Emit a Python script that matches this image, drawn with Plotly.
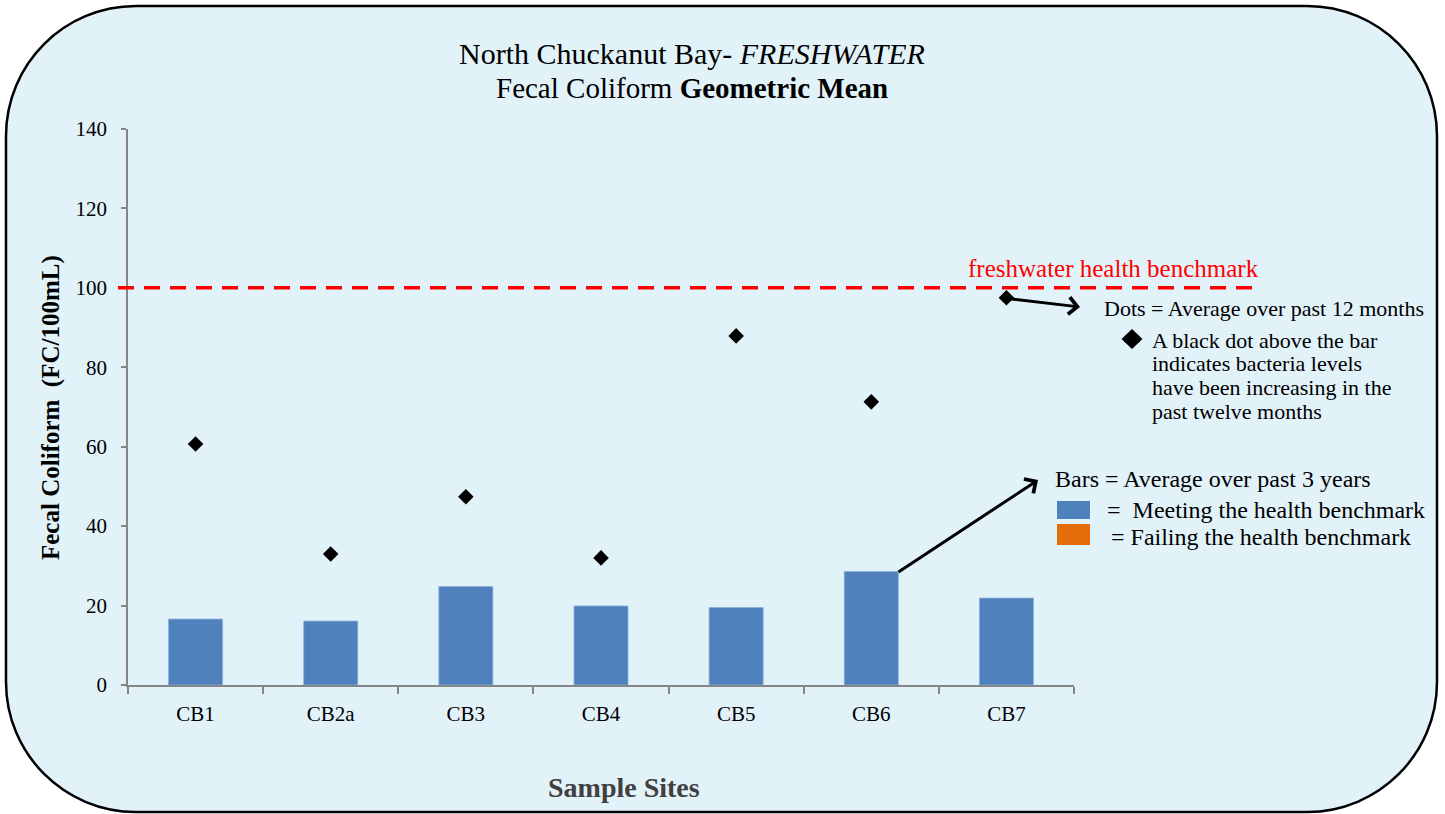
import plotly.graph_objects as go

# ---------------- data ----------------
sites = ["CB1", "CB2a", "CB3", "CB4", "CB5", "CB6", "CB7"]
avg_3yr = [16.6, 16.1, 24.8, 19.9, 19.5, 28.6, 21.9]        # bars
avg_12mo = [60.7, 33.0, 47.4, 32.0, 87.9, 71.3, 97.5]       # diamonds
y_ticks = [0, 20, 40, 60, 80, 100, 120, 140]
benchmark = 100

# ---------------- geometry helpers ----------------
W, H = 1445, 814
L, R, T, B = 128, 1074, 129, 685


def px(x):
    return (x - L) / (R - L)


def py(y):
    return (B - y) / (B - T)


FONT = "Liberation Serif"
BG = "#E2F2F9"
BLUE = "#4F81BD"
ORANGE = "#E46C0A"
AXIS = "#868686"

fig = go.Figure()

fig.add_trace(go.Bar(
    x=sites, y=avg_3yr, width=0.4,
    marker=dict(color=BLUE, line=dict(color="#8DB0DA", width=0.8)),
    showlegend=False, hoverinfo="x+y",
))
fig.add_trace(go.Scatter(
    x=sites, y=avg_12mo, mode="markers",
    marker=dict(symbol="diamond", size=12, color="black"),
    showlegend=False,
))

# ---------------- rounded background panel ----------------
x0, y0, x1, y1, r = 6, 6, 1437, 812, 130
k = 0.5523 * r


def P(X, Y):
    return f"{px(X):.5f},{py(Y):.5f}"


path = (
    f"M{P(x0 + r, y0)} L{P(x1 - r, y0)} "
    f"C{P(x1 - r + k, y0)} {P(x1, y0 + r - k)} {P(x1, y0 + r)} "
    f"L{P(x1, y1 - r)} "
    f"C{P(x1, y1 - r + k)} {P(x1 - r + k, y1)} {P(x1 - r, y1)} "
    f"L{P(x0 + r, y1)} "
    f"C{P(x0 + r - k, y1)} {P(x0, y1 - r + k)} {P(x0, y1 - r)} "
    f"L{P(x0, y0 + r)} "
    f"C{P(x0, y0 + r - k)} {P(x0 + r - k, y0)} {P(x0 + r, y0)} Z"
)
shapes = [
    dict(type="path", path=path, xref="paper", yref="paper", layer="below",
         fillcolor=BG, line=dict(color="black", width=2.5)),
    # benchmark line
    dict(type="line", xref="paper", yref="y", x0=px(118), x1=px(1252),
         y0=benchmark, y1=benchmark, layer="above",
         line=dict(color="#FF0000", width=3.5, dash="16px,10px")),
    # legend swatches
    dict(type="rect", xref="paper", yref="paper", x0=px(1057), x1=px(1090),
         y0=py(519), y1=py(501), fillcolor=BLUE, line=dict(width=0)),
    dict(type="rect", xref="paper", yref="paper", x0=px(1057), x1=px(1090),
         y0=py(545), y1=py(524), fillcolor=ORANGE, line=dict(width=0)),
    # legend diamond
    dict(type="path", xref="paper", yref="paper",
         path=f"M{P(1132, 329)} L{P(1142.5, 339)} L{P(1132, 349)} L{P(1121.5, 339)} Z",
         fillcolor="black", line=dict(width=0)),
]

ann = []


def text(t, x, y, size=22, color="black", xanchor="left", **kw):
    ann.append(dict(text=t, x=px(x), y=py(y), xref="paper", yref="paper",
                    xanchor=xanchor, yanchor="middle", showarrow=False,
                    font=dict(family=FONT, size=size, color=color), **kw))


# title (two lines)
text("North Chuckanut Bay- <i>FRESHWATER</i>", 692, 54, size=30, xanchor="center")
text("Fecal Coliform <b>Geometric Mean</b>", 692, 88, size=29, xanchor="center")
# axis titles
text("<b>Fecal Coliform  (FC/100mL)</b>", 51, 408, size=25, xanchor="center", textangle=-90)
text("<b>Sample Sites</b>", 624, 787, size=28, color="#404040", xanchor="center")
# benchmark label
text("freshwater health benchmark", 1113, 268, size=25, color="#FF0000", xanchor="center")
# notes
text("Dots = Average over past 12 months", 1102, 308)
text("A black dot above the bar", 1150, 340)
text("indicates bacteria levels", 1150, 363)
text("have been increasing in the", 1150, 387)
text("past twelve months", 1150, 411)
text("Bars = Average over past 3 years", 1053, 479, size=24)
text("=  Meeting the health benchmark", 1105, 510, size=24)
text("= Failing the health benchmark", 1109, 537, size=24)

# arrows
ann.append(dict(x=px(1080), y=py(307), xref="paper", yref="paper",
                ax=-76, ay=-9, axref="pixel", ayref="pixel", text="",
                showarrow=True, arrowhead=4, arrowsize=1.1, arrowwidth=3,
                arrowcolor="black"))
ann.append(dict(x=px(1038), y=py(480), xref="paper", yref="paper",
                ax=-141, ay=93, axref="pixel", ayref="pixel", text="",
                showarrow=True, arrowhead=4, arrowsize=1.1, arrowwidth=3,
                arrowcolor="black"))

fig.update_layout(
    width=W, height=H,
    margin=dict(l=L, r=W - R, t=T, b=H - B, autoexpand=False),
    paper_bgcolor="white", plot_bgcolor="rgba(0,0,0,0)",
    shapes=shapes, annotations=ann, showlegend=False,
    bargap=0.6,
)
fig.update_xaxes(
    type="category", categoryorder="array", categoryarray=sites,
    range=[-0.5, len(sites) - 0.5],
    showline=True, linecolor=AXIS, linewidth=1.5,
    ticks="outside", ticklen=7, tickcolor=AXIS, tickwidth=1.5,
    tickson="boundaries", showgrid=False, zeroline=False,
    tickfont=dict(family=FONT, size=21, color="black"),
    ticklabelstandoff=9, automargin=False,
)
fig.update_yaxes(
    range=[0, 140], tickvals=y_ticks, ticktext=[str(v) for v in y_ticks],
    showline=True, linecolor=AXIS, linewidth=1.5,
    ticks="outside", ticklen=5, tickcolor=AXIS, tickwidth=1.5,
    showgrid=False, zeroline=False,
    tickfont=dict(family=FONT, size=21, color="black"),
    ticklabelstandoff=10, automargin=False,
)

fig.write_html(
    "out.html",
    config={"displayModeBar": False},
    post_script="document.body.style.margin='0px';document.body.style.overflow='hidden';",
)
